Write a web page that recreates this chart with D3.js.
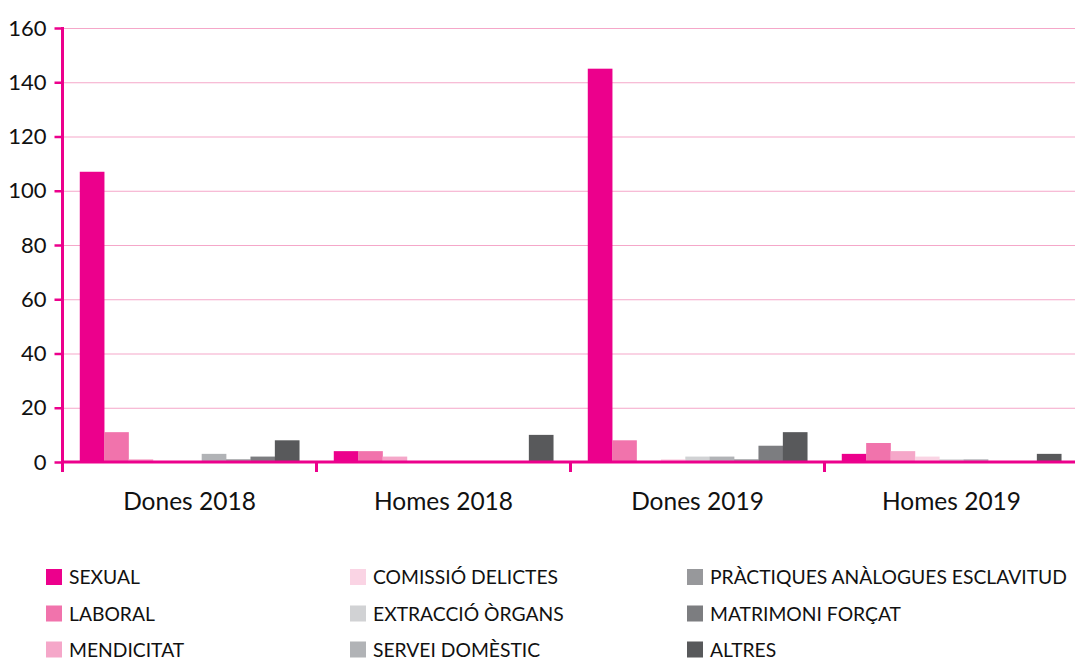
<!DOCTYPE html>
<html>
<head>
<meta charset="utf-8">
<script src="https://cdn.jsdelivr.net/npm/d3@7"></script>
<style>
  body { margin: 0; background: #fff; }
  svg { display: block; font-family: "Lato", "Open Sans", sans-serif; }
</style>
</head>
<body>
<svg id="chart" width="1075" height="660"></svg>
<script>
const groups = ["Dones 2018", "Homes 2018", "Dones 2019", "Homes 2019"];
const series = ["SEXUAL", "LABORAL", "MENDICITAT", "COMISSIÓ DELICTES", "EXTRACCIÓ ÒRGANS",
  "SERVEI DOMÈSTIC", "PRÀCTIQUES ANÀLOGUES ESCLAVITUD", "MATRIMONI FORÇAT", "ALTRES"];
const colors = ["#ec008c", "#f173ac", "#f5a7c9", "#fad4e4", "#d1d2d4", "#b1b3b6", "#97989b", "#7c7d80", "#58595b"];
// values per series, one per group
const values = [
  [107, 4, 145, 3],
  [11, 4, 8, 7],
  [1, 2, 0, 4],
  [0, 0, 1, 2],
  [0, 0, 2, 1],
  [3, 0, 2, 1],
  [1, 0, 1, 0],
  [2, 0, 6, 0],
  [8, 10, 11, 3]
];
const yTicks = [0, 20, 40, 60, 80, 100, 120, 140, 160];

const svg = d3.select("#chart");
const margin = {left: 62.5, top: 28, right: 1078.5, bottom: 462};

const x0 = d3.scaleBand().domain(groups).range([margin.left, margin.right])
  .paddingInner(0.136).paddingOuter(0.068);
const x1 = d3.scaleBand().domain(series).range([0, x0.bandwidth()]);
const y = d3.scaleLinear().domain([0, 160]).range([margin.bottom, margin.top]);

// grid
svg.append("g").selectAll("line").data(yTicks.slice(1)).join("line")
  .attr("x1", margin.left).attr("x2", 1075)
  .attr("y1", d => y(d) + 0.5).attr("y2", d => y(d) + 0.5)
  .attr("stroke", "#f5a7c9").attr("stroke-width", 1);

// bars
const gBars = svg.append("g");
groups.forEach((g, gi) => {
  gBars.append("g").attr("transform", `translate(${x0(g)},0)`)
    .selectAll("rect").data(series.map((s, si) => ({s, si, v: values[si][gi]})))
    .join("rect")
    .attr("x", d => x1(d.s))
    .attr("width", x1.bandwidth() + 0.3)
    .attr("y", d => y(d.v))
    .attr("height", d => y(0) - y(d.v))
    .attr("fill", d => colors[d.si]);
});

// y axis
const yAxis = svg.append("g").attr("transform", `translate(${margin.left},0)`)
  .call(d3.axisLeft(y).tickValues(yTicks).tickSize(8).tickPadding(8));
yAxis.select(".domain").remove();
yAxis.selectAll(".tick line").attr("stroke", "#ec008c").attr("stroke-width", 2.5);
yAxis.selectAll(".tick text").attr("fill", "#111").style("font-size", "22px")
  .attr("font-family", "Lato, sans-serif");
svg.append("line").attr("x1", margin.left).attr("x2", margin.left)
  .attr("y1", margin.top - 1).attr("y2", margin.bottom + 1.5)
  .attr("stroke", "#ec008c").attr("stroke-width", 3);

// x axis
svg.append("line").attr("x1", margin.left - 1.5).attr("x2", 1075)
  .attr("y1", margin.bottom).attr("y2", margin.bottom)
  .attr("stroke", "#ec008c").attr("stroke-width", 3);
const bounds = groups.map(g => x0(g) - x0.step() * x0.paddingInner() / 2).concat([margin.right]);
svg.append("g").selectAll("line").data(bounds).join("line")
  .attr("x1", d => d).attr("x2", d => d)
  .attr("y1", margin.bottom).attr("y2", margin.bottom + 10)
  .attr("stroke", "#ec008c").attr("stroke-width", 3);
svg.append("g").selectAll("text").data(groups).join("text")
  .attr("x", d => x0(d) + x0.bandwidth() / 2)
  .attr("y", 510)
  .attr("text-anchor", "middle")
  .attr("fill", "#111")
  .style("font-size", "24.5px")
  .text(d => d);

// legend
const legCols = [46, 350, 687];
const legRows = [577, 613.5, 649.5];
const leg = svg.append("g").selectAll("g").data(series).join("g")
  .attr("transform", (d, i) => `translate(${legCols[Math.floor(i / 3)]},${legRows[i % 3]})`);
leg.append("rect").attr("x", 0).attr("y", -8).attr("width", 16).attr("height", 16)
  .attr("fill", (d, i) => colors[i]);
leg.append("text").attr("x", 23).attr("y", 7)
  .attr("fill", "#111").style("font-size", "19.3px")
  .text(d => d);
</script>
</body>
</html>
